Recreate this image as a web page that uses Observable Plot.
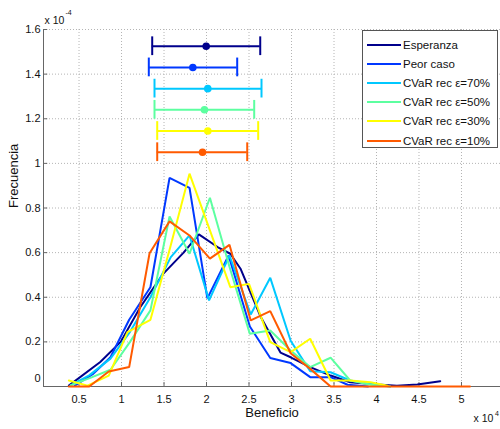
<!DOCTYPE html>
<html>
<head>
<meta charset="utf-8">
<script src="https://cdn.jsdelivr.net/npm/d3@7"></script>
<script src="https://cdn.jsdelivr.net/npm/@observablehq/plot@0.6"></script>
<style>
  body { margin: 0; background: #fff; }
  #chart { position: relative; width: 500px; height: 429px; font-family: "Liberation Sans", Arial, sans-serif; overflow: hidden; }
  #chart svg { display: block; }
  .legend { position: absolute; left: 362px; top: 30px; width: 136px; height: 118px; box-sizing: border-box;
            border: 1px solid #555; background: #fff; font-size: 11.5px; color: #111; }
  .legend .row { position: absolute; left: 0; height: 16px; display: flex; align-items: center; white-space: nowrap; }
  .legend svg { margin-left: 4px; margin-right: 2px; }
</style>
</head>
<body>
<div id="chart"></div>
<script>
// Profit in units of 10^4, frequency in units of 10^-4
const xTicks = [0.5, 1, 1.5, 2, 2.5, 3, 3.5, 4, 4.5, 5];
const yTicks = [0, 0.2, 0.4, 0.6, 0.8, 1, 1.2, 1.4, 1.6];
const xDomain = [0.082, 5.459];
const yDomain = [0, 1.6];

const seriesNames = ["Esperanza", "Peor caso", "CVaR rec ε=70%", "CVaR rec ε=50%", "CVaR rec ε=30%", "CVaR rec ε=10%"];
const seriesColors = ["#00008c", "#0038ff", "#00c8ff", "#5cffa0", "#ffff00", "#ff5a00"];

const esperanzaX = [0.38, 0.75, 0.99, 1.22, 1.49, 1.73, 1.91, 2.13, 2.28, 2.40, 2.64, 2.87, 2.99, 3.22, 3.46, 3.69, 4.01, 4.24, 4.48, 4.75];
const esperanzaY = [0.004, 0.11, 0.2, 0.355, 0.505, 0.6, 0.682, 0.625, 0.595, 0.528, 0.31, 0.152, 0.131, 0.087, 0.049, 0.019, 0.009, 0.003, 0.009, 0.024];

const peorX = [0.45, 0.67, 0.87, 1.09, 1.34, 1.565, 1.80, 2.01, 2.26, 2.51, 2.75, 2.99, 3.22, 3.46, 3.66, 3.90];
const peorY = [0.004, 0.058, 0.131, 0.299, 0.445, 0.935, 0.89, 0.395, 0.587, 0.269, 0.128, 0.105, 0.042, 0.042, 0.008, 0];

const cvar70X = [0.40, 0.62, 0.87, 1.10, 1.34, 1.58, 1.80, 2.03, 2.27, 2.52, 2.75, 2.99, 3.22, 3.46, 3.69, 3.93, 4.16];
const cvar70Y = [0.005, 0.05, 0.125, 0.245, 0.40, 0.58, 0.677, 0.386, 0.587, 0.323, 0.487, 0.205, 0.068, 0.064, 0.027, 0.012, 0];

const cvar50X = [0.40, 0.64, 0.87, 1.10, 1.34, 1.565, 1.80, 2.04, 2.27, 2.51, 2.75, 2.99, 3.22, 3.46, 3.69, 3.93, 4.16];
const cvar50Y = [0.005, 0.04, 0.075, 0.2, 0.341, 0.762, 0.595, 0.846, 0.537, 0.236, 0.251, 0.161, 0.087, 0.129, 0.027, 0.008, 0];

const cvar30X = [0.38, 0.60, 0.85, 1.07, 1.34, 1.57, 1.80, 2.04, 2.28, 2.50, 2.75, 2.99, 3.22, 3.46, 3.69, 3.93, 4.13];
const cvar30Y = [0.027, 0.004, 0.049, 0.244, 0.299, 0.62, 0.954, 0.70, 0.445, 0.46, 0.199, 0.154, 0.214, 0.027, 0.027, 0.019, 0.004];

const cvar10X = [0.38, 0.62, 0.85, 1.09, 1.33, 1.565, 1.80, 2.04, 2.27, 2.52, 2.75, 2.99, 3.22, 3.46, 3.70, 3.94, 4.18, 4.42, 4.66, 4.90, 5.10];
const cvar10Y = [0, 0, 0.067, 0.087, 0.597, 0.74, 0.677, 0.573, 0.635, 0.296, 0.338, 0.149, 0.079, 0, 0, 0, 0, 0, 0, 0, 0];

// Mean profit with its interval, one row per strategy
const errY = [1.525, 1.43, 1.335, 1.24, 1.145, 1.05];
const errMean = [1.996, 1.839, 2.015, 1.976, 2.015, 1.953];
const errLo = [1.361, 1.321, 1.388, 1.388, 1.42, 1.42];
const errHi = [2.632, 2.361, 2.647, 2.561, 2.608, 2.479];

const seriesX = [esperanzaX, peorX, cvar70X, cvar50X, cvar30X, cvar10X];
const seriesY = [esperanzaY, peorY, cvar70Y, cvar50Y, cvar30Y, cvar10Y];

const curves = seriesNames.flatMap((name, i) =>
  seriesX[i].map((x, j) => ({ name, x, y: seriesY[i][j] })));
const bars = seriesNames.map((name, i) =>
  ({ name, y: errY[i], mean: errMean[i], lo: errLo[i], hi: errHi[i] }));

const capHalf = 0.042; // half height of the error bar caps, in y units
const fmt = d => String(+d.toFixed(1));
const axisColor = "#666";

const chart = Plot.plot({
  width: 500,
  height: 429,
  marginLeft: 43,
  marginRight: 0,
  marginTop: 29,
  marginBottom: 43,
  style: { fontFamily: "Liberation Sans, Arial, sans-serif", fontSize: "11px", color: "#111", background: "#fff" },
  x: { domain: xDomain },
  y: { domain: yDomain },
  color: { domain: seriesNames, range: seriesColors },
  marks: [
    Plot.gridX(xTicks, { stroke: "#b4b4b4", strokeOpacity: 1, strokeDasharray: "1,2" }),
    Plot.gridY(yTicks.filter(v => v > 0), { stroke: "#b4b4b4", strokeOpacity: 1, strokeDasharray: "1,2" }),
    Plot.ruleX([xDomain[0]], { stroke: axisColor }),
    Plot.ruleY([yDomain[0]], { stroke: axisColor }),
    Plot.ruleX(xTicks, { x: d => d, y1: 0, y2: 0.018, stroke: axisColor }),
    Plot.ruleY(yTicks, { y: d => d, x1: xDomain[0], x2: xDomain[0] + 0.05, stroke: axisColor }),
    Plot.axisX(xTicks, { tickSize: 0, tickPadding: 9, tickFormat: fmt, label: null, fontSize: 11 }),
    Plot.axisY(yTicks.filter(v => v > 0), { tickSize: 0, tickPadding: 3, tickFormat: fmt, label: null, fontSize: 11 }),
    Plot.axisY([0], { tickSize: 0, tickPadding: 3, tickFormat: fmt, label: null, fontSize: 11, dy: -8 }),
    Plot.text(["Beneficio"], { frameAnchor: "bottom", dy: 30.5, fontSize: 13 }),
    Plot.text(["Frecuencia"], { frameAnchor: "left", dx: -30, rotate: -90, fontSize: 13 }),
    Plot.text(["x 10"], { frameAnchor: "top-left", dx: 1, dy: -12.5, textAnchor: "start", fontSize: 10.5 }),
    Plot.text(["-4"], { frameAnchor: "top-left", dx: 22, dy: -19, textAnchor: "start", fontSize: 7 }),
    Plot.text(["x 10"], { frameAnchor: "bottom-right", dx: -27, dy: 35.5, textAnchor: "start", fontSize: 10.5 }),
    Plot.text(["4"], { frameAnchor: "bottom-right", dx: -5.5, dy: 29, textAnchor: "start", fontSize: 7 }),
    Plot.line(curves, { x: "x", y: "y", z: "name", stroke: "name", strokeWidth: 2, strokeLinejoin: "miter" }),
    Plot.ruleY(bars, { y: "y", x1: "lo", x2: "hi", stroke: "name", strokeWidth: 2 }),
    Plot.ruleX(bars, { x: "lo", y1: d => d.y - capHalf, y2: d => d.y + capHalf, stroke: "name", strokeWidth: 2 }),
    Plot.ruleX(bars, { x: "hi", y1: d => d.y - capHalf, y2: d => d.y + capHalf, stroke: "name", strokeWidth: 2 }),
    Plot.dot(bars, { x: "mean", y: "y", fill: "name", r: 3.8 })
  ]
});

const root = document.getElementById("chart");
root.appendChild(chart);

// Legend box in the upper right corner
const legend = document.createElement("div");
legend.className = "legend";
seriesNames.forEach((name, i) => {
  const row = document.createElement("div");
  row.className = "row";
  row.style.top = (5.5 + i * 19.2) + "px";
  row.innerHTML = `<svg width="34" height="4"><line x1="0" y1="2" x2="34" y2="2" stroke="${seriesColors[i]}" stroke-width="2"/></svg><span>${name}</span>`;
  legend.appendChild(row);
});
root.appendChild(legend);
</script>
</body>
</html>
